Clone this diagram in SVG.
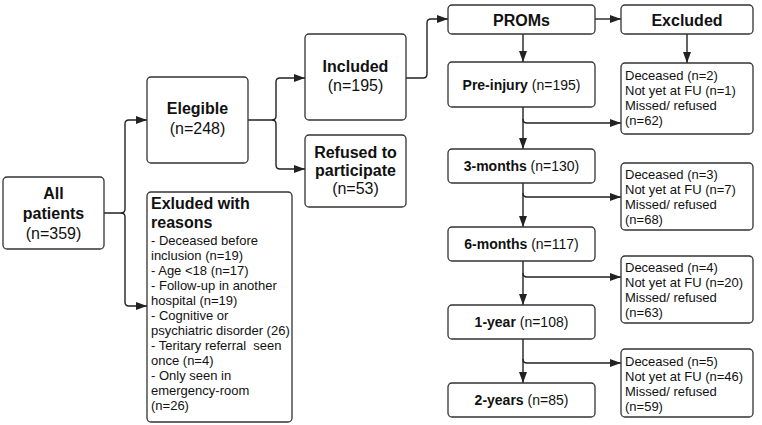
<svg xmlns="http://www.w3.org/2000/svg" width="762" height="425" viewBox="0 0 762 425">
  <defs>
    <marker id="arrow" markerUnits="userSpaceOnUse" markerWidth="11" markerHeight="8" refX="11" refY="4" orient="auto">
      <path d="M0,0 L11,4 L0,8 z" fill="#222"/>
    </marker>
    <style>
      .box { fill: #fff; stroke: #333; stroke-width: 1.3; }
      .link { fill: none; stroke: #222; stroke-width: 1.4; marker-end: url(#arrow); }
      text { font-family: "Liberation Sans", Arial, sans-serif; fill: #111; }
      .t16 { font-size: 16px; }
      .t14 { font-size: 14px; }
      .t13 { font-size: 13px; }
      .b { font-weight: bold; }
      .c { text-anchor: middle; }
    </style>
  </defs>
  <rect width="762" height="425" fill="#fff"/>

  <!-- connectors -->
  <g id="connectors">
    <path class="link" d="M104,213 H121 q4,0 4,-4 V124 q0,-4 4,-4 H147"/>
    <path class="link" d="M121,213 q4,0 4,4 V302 q0,4 4,4 H147"/>
    <path class="link" d="M248,120 H272 q4,0 4,-4 V82 q0,-4 4,-4 H305"/>
    <path class="link" d="M272,120 q4,0 4,4 V165 q0,4 4,4 H305"/>
    <path class="link" d="M406,78 H423 q4,0 4,-4 V23 q0,-4 4,-4 H448"/>
    <path class="link" d="M595,19 H621"/>
    <path class="link" d="M687,34 V63"/>
    <path class="link" d="M523,34 V62"/>
    <path class="link" d="M523,107 V149"/>
    <path class="link" d="M523,119 q0,4 4,4 H621"/>
    <path class="link" d="M523,183 V227"/>
    <path class="link" d="M523,193 q0,4 4,4 H621"/>
    <path class="link" d="M523,261 V305"/>
    <path class="link" d="M523,273 q0,4 4,4 H621"/>
    <path class="link" d="M523,339 V383"/>
    <path class="link" d="M523,359 q0,4 4,4 H621"/>
  </g>

  <g id="all-patients">
    <rect class="box" x="3" y="177" width="101" height="72" rx="4"/>
    <text class="t16 b c" x="53.5" y="199">All</text>
    <text class="t16 b c" x="53.5" y="219">patients</text>
    <text class="t16 c" x="53.5" y="239">(n=359)</text>
  </g>

  <g id="eligible">
    <rect class="box" x="147" y="77" width="101" height="86" rx="4"/>
    <text class="t16 b c" x="197.5" y="114">Elegible</text>
    <text class="t16 c" x="197.5" y="134">(n=248)</text>
  </g>

  <g id="excluded-reasons">
    <rect class="box" x="147" y="192" width="145" height="230" rx="4"/>
    <text class="t16 b" x="151" y="209">Exluded with</text>
    <text class="t16 b" x="151" y="228">reasons</text>
    <text class="t13" x="151" y="245">- Deceased before</text>
    <text class="t13" x="151" y="260">inclusion (n=19)</text>
    <text class="t13" x="151" y="275">- Age &lt;18 (n=17)</text>
    <text class="t13" x="151" y="290">- Follow-up in another</text>
    <text class="t13" x="151" y="305">hospital (n=19)</text>
    <text class="t13" x="151" y="320">- Cognitive or</text>
    <text class="t13" x="151" y="335">psychiatric disorder (26)</text>
    <text class="t13" x="151" y="350" xml:space="preserve">- Teritary referral  seen</text>
    <text class="t13" x="151" y="365">once (n=4)</text>
    <text class="t13" x="151" y="380">- Only seen in</text>
    <text class="t13" x="151" y="395">emergency-room</text>
    <text class="t13" x="151" y="410">(n=26)</text>
  </g>

  <g id="included">
    <rect class="box" x="305" y="34" width="101" height="86" rx="4"/>
    <text class="t16 b c" x="355.5" y="72">Included</text>
    <text class="t16 c" x="355.5" y="91">(n=195)</text>
  </g>

  <g id="refused">
    <rect class="box" x="305" y="135" width="101" height="72" rx="4"/>
    <text class="t16 b c" x="355.5" y="158">Refused to</text>
    <text class="t16 b c" x="355.5" y="176">participate</text>
    <text class="t16 c" x="355.5" y="194">(n=53)</text>
  </g>

  <g id="proms">
    <rect class="box" x="448" y="5" width="147" height="29" rx="4"/>
    <text class="t16 b c" x="521.5" y="25.5">PROMs</text>
  </g>

  <g id="excluded-head">
    <rect class="box" x="621" y="5" width="132" height="29" rx="4"/>
    <text class="t16 b c" x="687" y="25.5">Excluded</text>
  </g>

  <g id="pre-injury">
    <rect class="box" x="448" y="62" width="147" height="45" rx="4"/>
    <text class="t14 c" x="521.5" y="90"><tspan class="b">Pre-injury</tspan> (n=195)</text>
  </g>

  <g id="excluded-1">
    <rect class="box" x="621" y="63" width="132" height="71" rx="4"/>
    <text class="t13" x="625" y="80">Deceased (n=2)</text>
    <text class="t13" x="625" y="95">Not yet at FU (n=1)</text>
    <text class="t13" x="625" y="110">Missed/ refused</text>
    <text class="t13" x="625" y="125">(n=62)</text>
  </g>

  <g id="three-months">
    <rect class="box" x="448" y="149" width="147" height="34" rx="4"/>
    <text class="t14 c" x="521.5" y="171"><tspan class="b">3-months</tspan> (n=130)</text>
  </g>

  <g id="excluded-2">
    <rect class="box" x="621" y="163" width="132" height="67" rx="4"/>
    <text class="t13" x="625" y="179">Deceased (n=3)</text>
    <text class="t13" x="625" y="194">Not yet at FU (n=7)</text>
    <text class="t13" x="625" y="209">Missed/ refused</text>
    <text class="t13" x="625" y="224">(n=68)</text>
  </g>

  <g id="six-months">
    <rect class="box" x="448" y="227" width="147" height="34" rx="4"/>
    <text class="t14 c" x="521.5" y="249"><tspan class="b">6-months</tspan> (n=117)</text>
  </g>

  <g id="excluded-3">
    <rect class="box" x="621" y="256" width="132" height="67" rx="4"/>
    <text class="t13" x="625" y="272">Deceased (n=4)</text>
    <text class="t13" x="625" y="287">Not yet at FU (n=20)</text>
    <text class="t13" x="625" y="302">Missed/ refused</text>
    <text class="t13" x="625" y="317">(n=63)</text>
  </g>

  <g id="one-year">
    <rect class="box" x="448" y="305" width="147" height="34" rx="4"/>
    <text class="t14 c" x="521.5" y="327"><tspan class="b">1-year</tspan> (n=108)</text>
  </g>

  <g id="excluded-4">
    <rect class="box" x="621" y="349" width="132" height="68" rx="4"/>
    <text class="t13" x="625" y="366">Deceased (n=5)</text>
    <text class="t13" x="625" y="381">Not yet at FU (n=46)</text>
    <text class="t13" x="625" y="396">Missed/ refused</text>
    <text class="t13" x="625" y="411">(n=59)</text>
  </g>

  <g id="two-years">
    <rect class="box" x="448" y="383" width="147" height="34" rx="4"/>
    <text class="t14 c" x="521.5" y="405"><tspan class="b">2-years</tspan> (n=85)</text>
  </g>
</svg>
